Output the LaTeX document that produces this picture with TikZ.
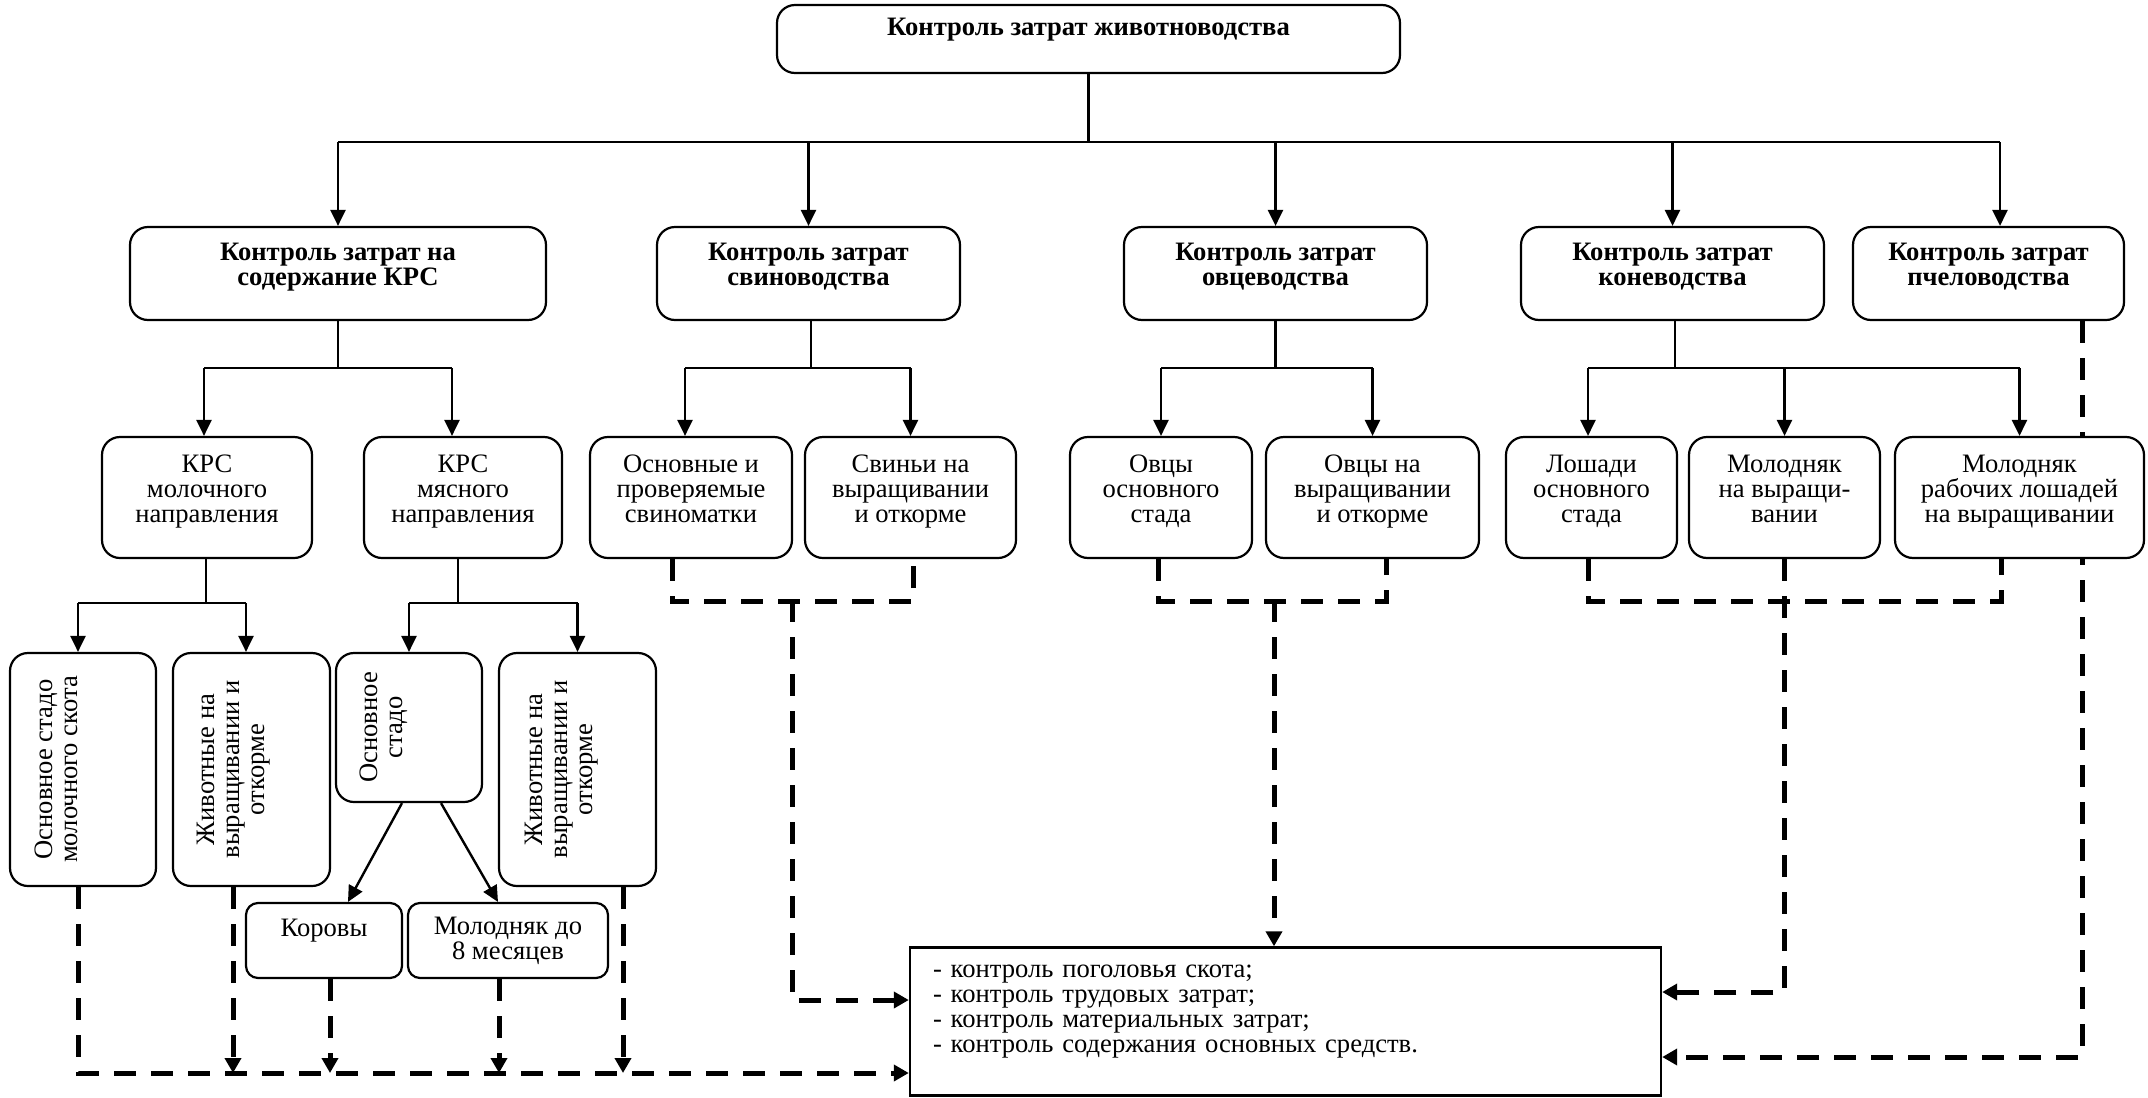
\documentclass[tikz,border=0pt]{standalone}
\usepackage{fontspec}
\setmainfont{Liberation Serif}
\usetikzlibrary{arrows.meta,calc,backgrounds}
% invisible strut below the last line, raises a centred text block
\newcommand{\liftby}[1]{\rule[-#1]{0pt}{#1}}

\begin{document}
\begin{tikzpicture}[x=0.5pt,y=-0.5pt,
  font=\fontsize{13.3}{12.5}\selectfont,
  box/.style={draw, line width=1.1pt, rounded corners=9pt, fill=white, align=center, inner sep=0pt},
  head/.style={box, font=\fontsize{13.3}{12.5}\selectfont\bfseries},
  small/.style={box, rounded corners=6pt},
  vtext/.style={rotate=90, align=center, inner sep=0pt, anchor=north},
  link/.style={line width=1.2pt},
  arr/.style={link, -{Triangle[length=8pt,width=7.5pt]}},
  dline/.style={line width=2.5pt, dash pattern=on 11pt off 7.5pt},
  darr/.style={dline, -{Triangle[length=7.5pt,width=8pt]}},
]
\useasboundingbox (0,0) rectangle (2148,1098);

% root
\node[head, minimum width=311.5pt, minimum height=34pt] (top) at (1088.5,39) {Контроль затрат животноводства\\~};

% branches
\node[head, minimum width=208pt, minimum height=46.5pt] (b1) at (338,273.5) {Контроль затрат на\\содержание КРС\liftby{9pt}};
\node[head, minimum width=151.5pt, minimum height=46.5pt] (b2) at (808.5,273.5) {Контроль затрат\\свиноводства\liftby{9pt}};
\node[head, minimum width=151.5pt, minimum height=46.5pt] (b3) at (1275.5,273.5) {Контроль затрат\\овцеводства\liftby{9pt}};
\node[head, minimum width=151.5pt, minimum height=46.5pt] (b4) at (1672.5,273.5) {Контроль затрат\\коневодства\liftby{9pt}};
\node[head, minimum width=135.5pt, minimum height=46.5pt] (b5) at (1988.5,273.5) {Контроль затрат\\пчеловодства\liftby{9pt}};

% groups of animals
\node[box, minimum width=105pt, minimum height=60.5pt] (c1) at (207,497.5) {КРС\\молочного\\направления\liftby{9pt}};
\node[box, minimum width=99pt, minimum height=60.5pt] (c2) at (463,497.5) {КРС\\мясного\\направления\liftby{9pt}};
\node[box, minimum width=101pt, minimum height=60.5pt] (c3) at (691,497.5) {Основные и\\проверяемые\\свиноматки\liftby{9pt}};
\node[box, minimum width=105.5pt, minimum height=60.5pt] (c4) at (910.5,497.5) {Свиньи на\\выращивании\\и откорме\liftby{9pt}};
\node[box, minimum width=91pt, minimum height=60.5pt] (c5) at (1161,497.5) {Овцы\\основного\\стада\liftby{9pt}};
\node[box, minimum width=106.5pt, minimum height=60.5pt] (c6) at (1372.5,497.5) {Овцы на\\выращивании\\и откорме\liftby{9pt}};
\node[box, minimum width=85.5pt, minimum height=60.5pt] (c7) at (1591.5,497.5) {Лошади\\основного\\стада\liftby{9pt}};
\node[box, minimum width=95.5pt, minimum height=60.5pt] (c8) at (1784.5,497.5) {Молодняк\\на выращи-\\вании\liftby{9pt}};
\node[box, minimum width=124.5pt, minimum height=60.5pt] (c9) at (2019.5,497.5) {Молодняк\\рабочих лошадей\\на выращивании\liftby{9pt}};

% cattle subgroups (upright boxes, text turned)
\node[box, minimum width=73pt, minimum height=116.5pt] (d1) at (83,769.5) {};
\node[box, minimum width=78.5pt, minimum height=116.5pt] (d2) at (251.5,769.5) {};
\node[box, minimum width=73pt, minimum height=74.5pt] (d3) at (409,727.5) {};
\node[box, minimum width=78.5pt, minimum height=116.5pt] (d4) at (577.5,769.5) {};
\node[vtext] (d1t) at ($(d1.west)+(26,0)$) {Основное стадо\\молочного скота};
\node[vtext] (d2t) at ($(d2.west)+(25,0)$) {Животные на\\выращивании и\\откорме};
\node[vtext] (d3t) at ($(d3.west)+(25,0)$) {Основное\\стадо};
\node[vtext] (d4t) at ($(d4.west)+(27,0)$) {Животные на\\выращивании и\\откорме};

\node[small, minimum width=78pt, minimum height=37.5pt] (e1) at (324,940.5) {Коровы\\~};
\node[small, minimum width=100pt, minimum height=37.5pt] (e2) at (508,940.5) {Молодняк до\\8 месяцев};

% summary of control areas
\node[draw, line width=1.2pt, fill=white, minimum height=74pt, inner xsep=11.5pt, inner ysep=0pt,
      text width=352.5pt, align=left] (f) at (1285.5,1021.5)
  {- контроль поголовья скота;\\- контроль трудовых затрат;\\- контроль материальных затрат;\\- контроль содержания основных средств.\liftby{13pt}};

\begin{scope}[on background layer]
  % root to branches
  \coordinate (j0) at ($(top.south)+(0,68)$);
  \coordinate (b5in) at ($(b5.north)+(11.5,0)$);
  \draw[link] (top.south) -- (j0);
  \draw[link] (j0 -| b1.north) -- (j0 -| b5in);
  \foreach \n in {b1,b2,b3,b4} \draw[arr] (j0 -| \n.north) -- (\n.north);
  \draw[arr] (j0 -| b5in) -- (b5in);

  % cattle
  \coordinate (k1) at ($(b1.south)+(0,47)$);
  \coordinate (c1in) at ($(c1.north)+(-3,0)$);
  \coordinate (c2in) at ($(c2.north)+(-11,0)$);
  \draw[link] (b1.south) -- (k1);
  \draw[link] (k1 -| c1in) -- (k1 -| c2in);
  \draw[arr] (k1 -| c1in) -- (c1in);
  \draw[arr] (k1 -| c2in) -- (c2in);

  % pigs
  \coordinate (k2) at ($(b2.south)+(2.5,47)$);
  \coordinate (c3in) at ($(c3.north)+(-6,0)$);
  \draw[link] (b2.south -| k2) -- (k2);
  \draw[link] (k2 -| c3in) -- (k2 -| c4.north);
  \draw[arr] (k2 -| c3in) -- (c3in);
  \draw[arr] (k2 -| c4.north) -- (c4.north);

  % sheep
  \coordinate (k3) at ($(b3.south)+(0,47)$);
  \draw[link] (b3.south) -- (k3);
  \draw[link] (k3 -| c5.north) -- (k3 -| c6.north);
  \draw[arr] (k3 -| c5.north) -- (c5.north);
  \draw[arr] (k3 -| c6.north) -- (c6.north);

  % horses
  \coordinate (k4) at ($(b4.south)+(2.5,47)$);
  \coordinate (c7in) at ($(c7.north)+(-3.5,0)$);
  \draw[link] (b4.south -| k4) -- (k4);
  \draw[link] (k4 -| c7in) -- (k4 -| c9.north);
  \draw[arr] (k4 -| c7in) -- (c7in);
  \draw[arr] (k4 -| c8.north) -- (c8.north);
  \draw[arr] (k4 -| c9.north) -- (c9.north);

  % dairy cattle
  \coordinate (m1) at ($(c1.south)+(-1,44)$);
  \coordinate (d1in) at ($(d1.north)+(-5,0)$);
  \coordinate (d2in) at ($(d2.north)+(-5.5,0)$);
  \draw[link] (c1.south -| m1) -- (m1);
  \draw[link] (m1 -| d1in) -- (m1 -| d2in);
  \draw[arr] (m1 -| d1in) -- (d1in);
  \draw[arr] (m1 -| d2in) -- (d2in);

  % beef cattle
  \coordinate (m2) at ($(c2.south)+(-5,44)$);
  \draw[link] (c2.south -| m2) -- (m2);
  \draw[link] (m2 -| d3.north) -- (m2 -| d4.north);
  \draw[arr] (m2 -| d3.north) -- (d3.north);
  \draw[arr] (m2 -| d4.north) -- (d4.north);

  % main herd of beef cattle
  \coordinate (d3a) at ($(d3.south)+(-7,0)$);
  \coordinate (d3b) at ($(d3.south)+(32,0)$);
  \coordinate (e1in) at ($(e1.north)+(24,0)$);
  \coordinate (e2in) at ($(e2.north)+(-10,0)$);
  \draw[arr] (d3a) -- (e1in);
  \draw[arr] (d3b) -- (e2in);

  % pig groups to summary
  \coordinate (s3) at ($(c3.south)+(-19,0)$);
  \coordinate (s4) at ($(c4.south)+(2.5,0)$);
  \coordinate (sj) at (792,600);
  \draw[dline] (s3) -- ++(0,42) -| (s4);
  \draw[darr] (sj) |- ($(f.west)+(0,-21.5)$);

  % sheep groups to summary
  \coordinate (s5) at ($(c5.south)+(-3,0)$);
  \coordinate (s6) at ($(c6.south)+(13.5,0)$);
  \coordinate (fin) at ($(f.north)+(-11.5,0)$);
  \draw[dline] (s5) -- ++(0,42) -| (s6);
  \draw[darr] (fin |- sj) -- (fin);

  % horse groups to summary
  \coordinate (s7) at ($(c7.south)+(-3.5,0)$);
  \coordinate (s9) at ($(c9.south)+(-18.5,0)$);
  \draw[dline] (s7) -- ++(0,42) -| (s9);
  \draw[darr] (c8.south) |- ($(f.east)+(0,-29.5)$);

  % beekeeping to summary
  \coordinate (p5) at ($(b5.south)+(93.5,0)$);
  \draw[darr] (p5) |- ($(f.east)+(0,35.5)$);

  % cattle groups to summary
  \coordinate (bl) at ($(f.west)+(0,51.5)$);
  \coordinate (t1) at ($(d1.south)+(-5,0)$);
  \coordinate (t2) at ($(d2.south)+(-18.5,0)$);
  \coordinate (t3) at ($(e1.south)+(6,0)$);
  \coordinate (t4) at ($(e2.south)+(-9,0)$);
  \coordinate (t5) at ($(d4.south)+(45.5,0)$);
  \draw[darr] (t1) |- (bl);
  \foreach \t in {t2,t3,t4,t5} \draw[darr] (\t) -- (\t |- bl);
\end{scope}
\end{tikzpicture}
\end{document}
